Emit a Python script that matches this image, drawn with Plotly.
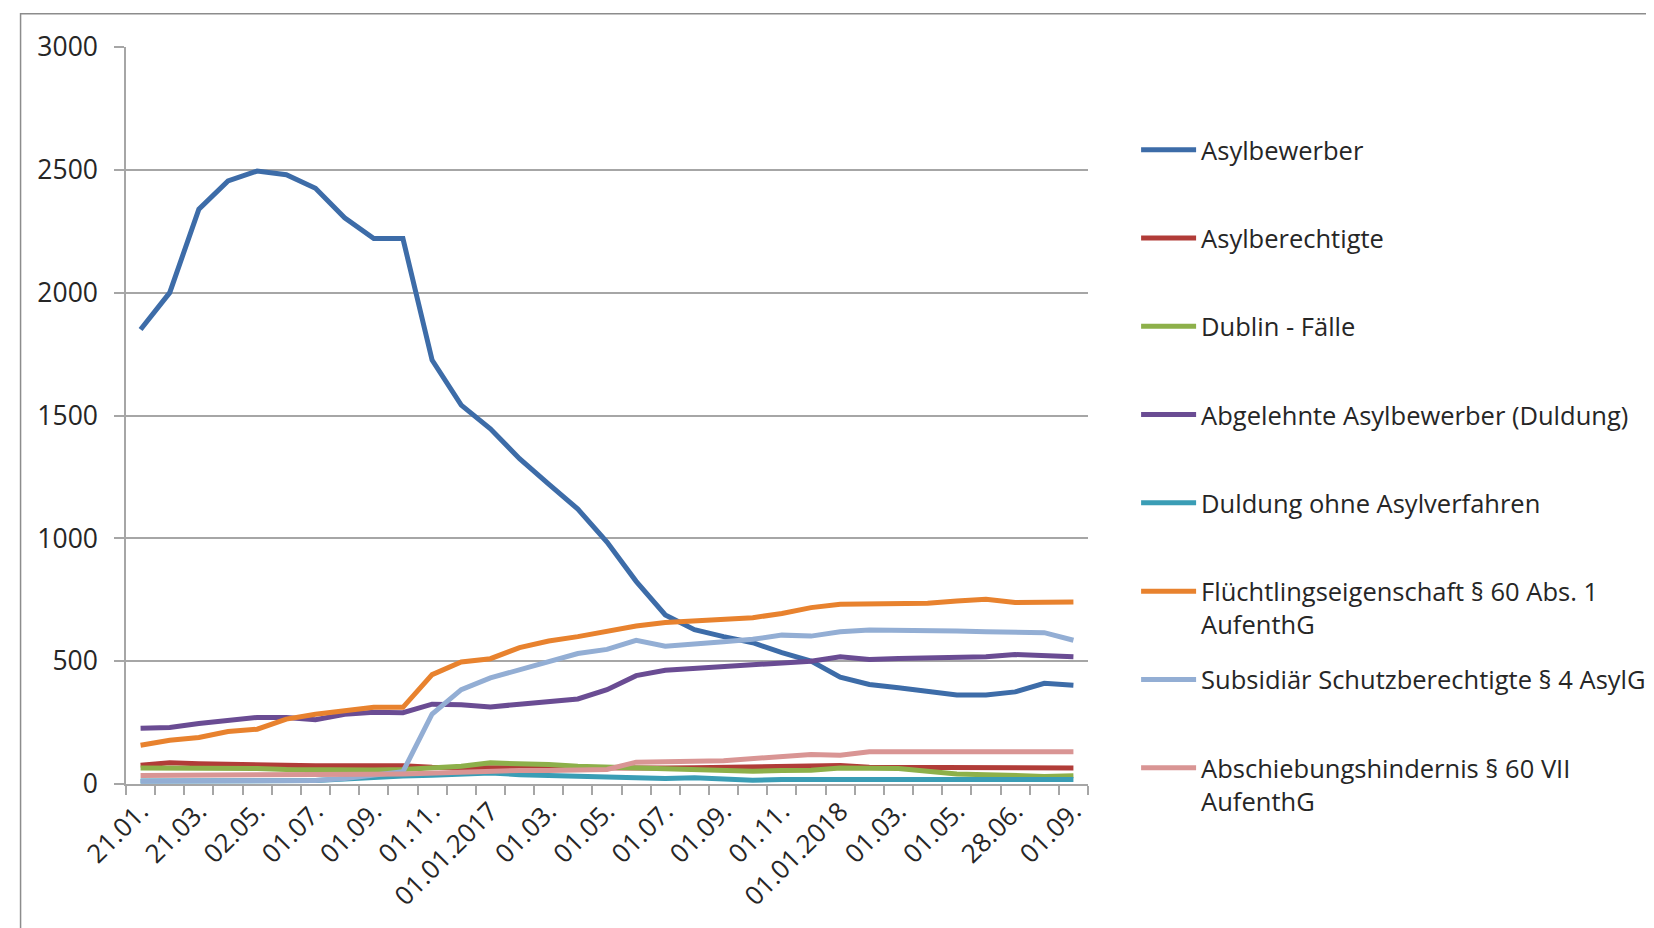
import plotly.graph_objects as go

# Categories (stichtage) – every other one is labelled on the axis
dates = [
    "21.01.2016", "21.02.2016", "21.03.2016", "01.04.2016", "02.05.2016", "01.06.2016",
    "01.07.2016", "01.08.2016", "01.09.2016", "01.10.2016", "01.11.2016", "01.12.2016",
    "01.01.2017", "01.02.2017", "01.03.2017", "01.04.2017", "01.05.2017", "01.06.2017",
    "01.07.2017", "01.08.2017", "01.09.2017", "01.10.2017", "01.11.2017", "01.12.2017",
    "01.01.2018", "01.02.2018", "01.03.2018", "01.04.2018", "01.05.2018", "01.06.2018",
    "28.06.2018", "01.08.2018", "01.09.2018",
]
tick_labels = [
    "21.01.", "", "21.03.", "", "02.05.", "", "01.07.", "", "01.09.", "", "01.11.", "",
    "01.01.2017", "", "01.03.", "", "01.05.", "", "01.07.", "", "01.09.", "", "01.11.", "",
    "01.01.2018", "", "01.03.", "", "01.05.", "", "28.06.", "", "01.09.",
]

asylbewerber = [1850, 2000, 2340, 2455, 2495, 2480, 2425, 2305, 2220, 2220, 1726, 1542,
                1446, 1324, 1221, 1119, 985, 825, 688, 628, 600, 575, 535, 500,
                435, 405, 392, 375, 362, 362, 375, 410, 402]
asylberechtigte = [76, 86, 82, 79, 79, 76, 74, 74, 74, 74, 68, 65,
                   66, 66, 65, 65, 65, 65, 65, 66, 68, 70, 68, 72,
                   75, 68, 67, 66, 65, 65, 65, 65, 65]
dublin = [65, 65, 65, 63, 63, 59, 57, 57, 57, 59, 63, 72,
          86, 85, 79, 72, 68, 65, 59, 56, 55, 52, 55, 56,
          65, 65, 63, 52, 41, 38, 35, 31, 34]
abgelehnte = [227, 230, 246, 260, 271, 271, 262, 284, 292, 290, 325, 323,
              313, 325, 336, 346, 384, 441, 463, 470, 475, 484, 493, 500,
              518, 507, 511, 514, 516, 518, 527, 520, 518]
duldung_ohne = [12, 12, 12, 12, 12, 12, 14, 20, 28, 33, 36, 38,
                45, 38, 34, 31, 27, 27, 22, 25, 22, 15, 18, 18,
                18, 18, 18, 18, 18, 18, 18, 18, 18]
fluechtling = [158, 178, 189, 214, 223, 264, 284, 298, 312, 312, 445, 497,
               510, 555, 582, 600, 623, 643, 657, 664, 670, 677, 694, 718,
               732, 735, 736, 736, 745, 752, 739, 741, 741]
subsidiaer = [11, 11, 11, 11, 11, 11, 14, 22, 34, 50, 285, 384,
              432, 466, 500, 531, 548, 585, 561, 568, 579, 589, 606, 602,
              620, 627, 627, 627, 623, 620, 616, 616, 585]
abschiebung = [35, 35, 35, 35, 35, 35, 36, 38, 40, 41, 45, 52,
               55, 55, 55, 57, 59, 89, 93, 93, 95, 102, 108, 120,
               117, 131, 131, 131, 131, 131, 131, 131, 131]

series_names = [
    "Asylbewerber",
    "Asylberechtigte",
    "Dublin - Fälle",
    "Abgelehnte Asylbewerber (Duldung)",
    "Duldung ohne Asylverfahren",
    "Flüchtlingseigenschaft § 60 Abs. 1<br>AufenthG",
    "Subsidiär Schutzberechtigte § 4 AsylG",
    "Abschiebungshindernis § 60 VII<br>AufenthG",
]
series_values = [asylbewerber, asylberechtigte, dublin, abgelehnte,
                 duldung_ohne, fluechtling, subsidiaer, abschiebung]
colors = ["#3D6CA8", "#B13C38", "#8DB04A", "#6A4C93",
          "#3A9DB5", "#E8822E", "#93AED4", "#D99594"]

FONT = "Open Sans"
TXT = "#262626"
fig = go.Figure()
for i, (name, vals, col) in enumerate(zip(series_names, series_values, colors)):
    label = name if "<br>" in name else name + "<br>\u00a0"
    fig.add_trace(go.Scatter(
        x=dates, y=vals, mode="lines", name=label,
        legendgroup=f"g{i}",
        line=dict(color=col, width=5, shape="linear"),
    ))

grid = "#A6A6A6"
fig.update_layout(
    width=1654, height=928,
    margin=dict(l=118, r=574, t=39, b=152, autoexpand=False),
    paper_bgcolor="white", plot_bgcolor="white",
    font=dict(family=FONT, size=25.5, color=TXT),
    showlegend=True,
    legend=dict(
        x=1.05, y=0.892, xanchor="left", yanchor="top",
        traceorder="grouped", tracegroupgap=19, valign="top",
        font=dict(family=FONT, size=25.5, color=TXT),
        bgcolor="rgba(0,0,0,0)", itemwidth=55,
    ),
    xaxis=dict(
        type="category", categoryorder="array", categoryarray=dates,
        tickvals=dates, ticktext=tick_labels, tickangle=-45,
        tickson="boundaries", ticks="outside", ticklen=9, tickcolor=grid, tickwidth=1.5,
        showline=True, linecolor=grid, linewidth=1.5, showgrid=False,
        tickfont=dict(family=FONT, size=26, color=TXT),
        range=[-0.5, len(dates) - 0.5], zeroline=False,
    ),
    yaxis=dict(
        range=[0, 3000], tickvals=[0, 500, 1000, 1500, 2000, 2500, 3000],
        ticks="outside", ticklen=10, tickcolor=grid, tickwidth=1.5,
        showline=True, linecolor=grid, linewidth=1.5,
        showgrid=True, gridcolor=grid, gridwidth=1.5, zeroline=False,
        tickfont=dict(family=FONT, size=26.5, color=TXT),
        ticklabelstandoff=11,
    ),
    shapes=[dict(type="rect", xref="paper", yref="paper",
                 x0=-0.1096, x1=1.62, y0=-0.25, y1=1.0452,
                 line=dict(color="#8C8C8C", width=1.5), fillcolor="rgba(0,0,0,0)",
                 layer="below")],
)

fig.write_html("out.html")
